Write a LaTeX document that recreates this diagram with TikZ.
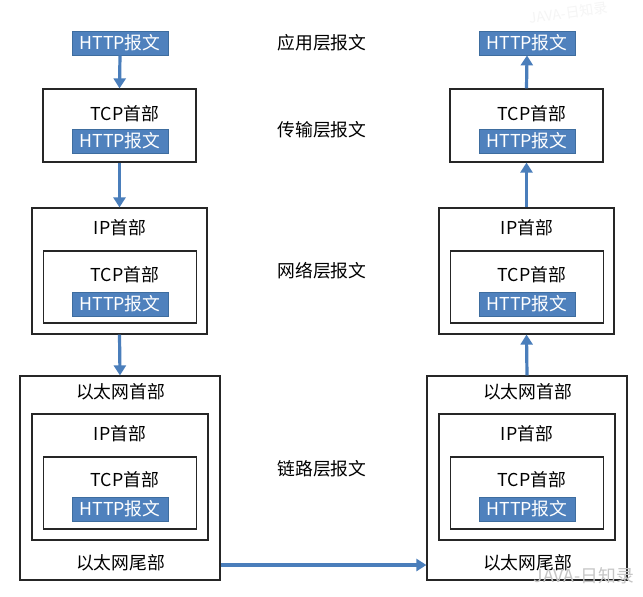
\documentclass[tikz,border=0pt]{standalone}
\usepackage{fontspec}
\setmainfont{Noto Sans CJK SC}
\usetikzlibrary{arrows.meta}
\definecolor{hblue}{HTML}{4F81BD}
\definecolor{hborder}{HTML}{3E6D9F}
\definecolor{ablue}{HTML}{4A7EBB}
\definecolor{boxline}{HTML}{262626}
\newcommand\stackcolumn{%
  % application layer
  \node[http] (h0) at (120,43) {HTTP报文};
  % transport layer
  \node[box, minimum width=153pt, minimum height=73pt] (t1) at (119.5,125.5) {};
  \node[lbl] (t1t) at (125,114) {TCP首部};
  \node[http] (t1h) at (120,141) {HTTP报文};
  % network layer
  \node[box, minimum width=175pt, minimum height=126pt] (i2) at (119.5,271) {};
  \node[lbl] (i2i) at (120,228) {IP首部};
  \node[box, minimum width=153pt, minimum height=72pt] (i2t) at (120,287) {};
  \node[lbl] (i2tt) at (125,275) {TCP首部};
  \node[http] (i2h) at (120,304) {HTTP报文};
  % link layer
  \node[box, minimum width=200pt, minimum height=204pt] (e3) at (120,478) {};
  \node[lbl] (e3e) at (120.5,392) {以太网首部};
  \node[box, minimum width=176pt, minimum height=126pt] (e3i) at (120,477) {};
  \node[lbl] (e3ii) at (120,434) {IP首部};
  \node[box, minimum width=153pt, minimum height=72pt] (e3t) at (120,493) {};
  \node[lbl] (e3tt) at (125,480) {TCP首部};
  \node[http] (e3h) at (120,509) {HTTP报文};
  \node[lbl] (e3f) at (120.5,563) {以太网尾部};
}
\begin{document}
\begin{tikzpicture}[x=1pt,y=-1pt,
  every node/.style={font=\fontsize{17.8}{20}\selectfont},
  box/.style={draw=boxline, line width=1.2pt, fill=white, inner sep=0pt},
  lbl/.style={inner sep=0pt, text=black},
  http/.style={fill=hblue, draw=hborder, line width=0.8pt, text=white,
    minimum width=96pt, minimum height=24pt, inner sep=0pt},
  arr/.style={draw=ablue, line width=3.2pt, -{Triangle[width=12pt,length=10pt]}},
  mid/.style={inner sep=0pt, text=black},
  wm/.style={inner sep=0pt, text=gray!45}]
\useasboundingbox[fill=white] (0,0) rectangle (643,597);

\stackcolumn
\begin{scope}[xshift=407pt, name prefix=R-]
  \stackcolumn
\end{scope}

% middle labels
\node[mid] (m0) at (322,43) {应用层报文};
\node[mid] (m1) at (322,130) {传输层报文};
\node[mid] (m2) at (322,271) {网络层报文};
\node[mid] (m3) at (322,469) {链路层报文};

% left column arrows (down)
\draw[arr] (h0.south) -- (t1.north);
\draw[arr] (t1.south) -- (i2.north);
\draw[arr] (i2.south) -- (e3.north);
% right column arrows (up)
\draw[arr] (R-e3.north) -- (R-i2.south);
\draw[arr] (R-i2.north) -- (R-t1.south);
\draw[arr] (R-t1.north) -- (R-h0.south);
% across
\coordinate (across) at (0,565);
\draw[arr] (e3.east |- across) -- (R-e3.west |- across);

% watermarks
\node[wm] (wm1) at (584,576) {JAVA-日知录};
\node[inner sep=0pt, text=gray!8, rotate=8, font=\fontsize{14}{14}\selectfont] (wm2) at (568,13) {JAVA-日知录};
\end{tikzpicture}
\end{document}
